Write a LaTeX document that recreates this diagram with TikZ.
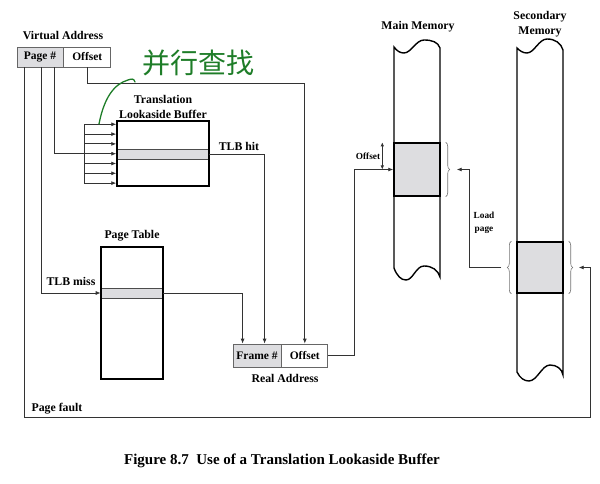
\documentclass[tikz,border=0pt]{standalone}
\usepackage{fontspec}
\setmainfont{Liberation Serif}
\newfontfamily\cjk{Noto Sans CJK SC}
\usetikzlibrary{arrows.meta, positioning, decorations.pathreplacing}
\definecolor{pen}{RGB}{30,125,40}
\definecolor{shade}{RGB}{221,221,224}
\tikzset{
  lbl/.style={font=\bfseries\fontsize{11.8}{15.5}\selectfont, align=center, inner sep=0pt},
  smalllbl/.style={font=\bfseries\fontsize{9.3}{13}\selectfont, align=center, inner sep=0pt},
  field/.style={rectangle, draw=black!60, line width=0.8pt, minimum height=20pt, inner sep=0pt, font=\bfseries\fontsize{11.5}{12}\selectfont},
  tablebox/.style={rectangle, draw, line width=1.4pt, inner sep=0pt},
  rowbar/.style={rectangle, draw=black!70, line width=0.6pt, fill=shade, inner sep=0pt, minimum height=10pt},
  memline/.style={draw, line width=1.4pt, fill=white},
  page/.style={rectangle, draw, line width=1.4pt, fill=shade, inner sep=0pt, minimum width=46pt},
  wire/.style={draw=black!80, line width=0.8pt},
  line/.style={wire, -{Latex[length=5pt,width=4pt]}},
  span/.style={wire, {Latex[length=4pt,width=3.5pt]}-{Latex[length=4pt,width=3.5pt]}},
  pagebrace/.style={draw=black!55, line width=0.6pt, decorate, decoration={brace, amplitude=4pt}},
  notepen/.style={draw=pen, line width=1.3pt, line cap=round}
}

\begin{document}
\begin{tikzpicture}[x=1pt, y=-1pt]
\useasboundingbox (0,0) rectangle (600,484);
% virtual address
\node[lbl] (valbl) at (63,35) {Virtual Address};
\node[field, fill=shade, minimum width=46pt] (vpage) at (40,57) {Page \#};
\node[field, minimum width=47pt, right=0pt of vpage] (voff) {Offset};
% TLB
\node[rowbar, minimum width=92pt] (tlbhit) at (163,154) {};
\node[tablebox, minimum width=92pt, minimum height=65pt] (tlb) at (163,153.5) {};
\node[lbl, above=1pt of tlb] (tlblbl) {Translation\\Lookaside Buffer};
% page table
\node[rowbar, minimum width=62pt] (ptrow) at (132,293) {};
\node[tablebox, minimum width=62pt, minimum height=132pt] (pt) at (132,313) {};
\node[lbl, above=4.5pt of pt] (ptlbl) {Page Table};
% real address
\node[field, fill=shade, minimum width=48pt, minimum height=23pt] (rframe) at (257,355.5) {Frame \#};
\node[field, minimum width=46pt, minimum height=23pt, right=0pt of rframe] (roff) {Offset};
\node[lbl] (ralbl) at (285,378) {Real Address};
% main and secondary memory
\draw[memline] (394,47) -- (394,268)
  .. controls (397,276) and (401,280) .. (406,280)
  .. controls (413,280) and (416,266) .. (424,266)
  .. controls (432,266) and (438,270) .. (440,277)
  -- (440,48)
  .. controls (438,42) and (432,40) .. (424,40)
  .. controls (416,40) and (411,53) .. (404,53)
  .. controls (400,53) and (397,51) .. (394,47) -- cycle;
\draw[memline] (517,48) -- (517,372)
  .. controls (520,378) and (524,381) .. (529,381)
  .. controls (537,381) and (542,365) .. (550,365)
  .. controls (557,365) and (562,369) .. (563,375)
  -- (563,50)
  .. controls (561,43) and (555,39) .. (547,39)
  .. controls (539,39) and (534,53) .. (527,53)
  .. controls (523,53) and (520,51) .. (517,48) -- cycle;
\node[page, minimum height=53pt] (mmpage) at (417,169.5) {};
\node[page, minimum height=51pt] (spage) at (540,267.5) {};
\node[lbl] (mmlbl) at (418,27) {Main Memory};
\node[lbl] (smlbl) at (540,24) {Secondary\\Memory};
\draw[pagebrace] ([xshift=5pt]mmpage.north east) -- ([xshift=5pt]mmpage.south east);
\draw[pagebrace] ([xshift=5pt]spage.north east) -- ([xshift=5pt]spage.south east);
\draw[pagebrace] ([xshift=-5pt]spage.south west) -- ([xshift=-5pt]spage.north west);
\coordinate (mmin) at ([xshift=16pt]mmpage.east);
\coordinate (sin) at ([xshift=15pt]spage.east);
\coordinate (sout) at ([xshift=-15pt]spage.west);
% connectors
\coordinate (pa) at ([xshift=8pt]vpage.south west);
\coordinate (pb) at ([xshift=25pt]vpage.south west);
\coordinate (pc) at ([xshift=38pt]vpage.south west);
\coordinate (rin1) at ([xshift=10pt]rframe.north west);
\coordinate (rin2) at ([xshift=32pt]rframe.north west);
\coordinate (faultc) at (590,417);
\foreach \i in {0,...,6} {
  \coordinate (f\i) at ([xshift=-32pt, yshift={-(4+9.8*\i)*1pt}]tlb.north west);
  \draw[line] (f\i) -- (f\i -| tlb.west);
}
\draw[wire] (f0) -- (f6);
\draw[wire] (pc) |- (f3);
\draw[line] (pb) |- (ptrow.west);
\draw[line] (pa) |- (faultc) |- (sin);
\draw[line] (voff.south) -- ++(0,-16pt) -| (roff.north);
\draw[line] (tlbhit.east) -| (rin2);
\draw[line] (ptrow.east) -| (rin1);
\draw[line] (roff.east) -- ++(26pt,0) |- (mmpage.west);
\draw[line] (sout) -- ++(-32pt,0) |- (mmin);
\draw[span] ([xshift=-11pt]mmpage.north west) -- ([xshift=-11pt]mmpage.west);
\node[lbl] (hitlbl) at (239,146) {TLB hit};
\node[lbl] (misslbl) at (71,281) {TLB miss};
\node[lbl] (faultlbl) at (57,409) {Page fault};
\node[smalllbl] (offlbl) at (368,156) {Offset};
\node[smalllbl] (loadlbl) at (484,223) {Load\\page};
% handwritten note
\node[text=pen, font=\cjk\fontsize{28}{30}\selectfont, inner sep=0pt] (note) at (198,63) {并行查找};
\draw[notepen] (99,124) .. controls (104,98) and (114,84) .. (128,80)
  .. controls (131,79) and (134,78) .. (135,82);
% caption
\node[font=\bfseries\fontsize{15}{17}\selectfont] (caption) at (282,461) {Figure 8.7\ \ Use of a Translation Lookaside Buffer};
\end{tikzpicture}
\end{document}
